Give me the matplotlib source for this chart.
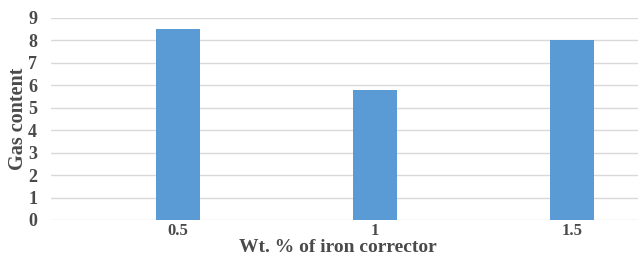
import matplotlib.pyplot as plt
import numpy as np

categories = ['0.5', '1', '1.5']
gas_content = [8.5, 5.8, 8.0]
yticks = list(range(0, 10))

fig = plt.figure(figsize=(6.38, 2.57), dpi=100)
ax = fig.add_axes([51 / 638, 37 / 257, 587 / 638, 202 / 257])

x = np.arange(len(categories))
ax.bar(x, gas_content, width=0.223, color='#5b9bd5', zorder=3)

ax.set_xlim(-0.645, 2.335)
ax.set_ylim(0, 9)
ax.set_yticks(yticks)
ax.set_xticks(x)
ax.set_xticklabels(categories)
ax.grid(axis='y', color='#d9d9d9', linewidth=1.0, zorder=0)
ax.set_axisbelow(True)
for s in ax.spines.values():
    s.set_visible(False)
ax.tick_params(axis='y', length=0, labelsize=13, labelcolor='#4a4a4a', pad=10)
ax.tick_params(axis='x', length=0, labelsize=12, labelcolor='#4a4a4a', pad=2)
for lab in ax.get_xticklabels() + ax.get_yticklabels():
    lab.set_fontfamily('Liberation Serif')
    lab.set_fontweight('bold')

ax.set_xlabel('Wt. % of iron corrector', fontsize=14, fontweight='bold',
              family='Liberation Serif', color='#4a4a4a', va='bottom')
ax.xaxis.set_label_coords(0.489, -0.18)
ax.set_ylabel('Gas content', fontsize=14.5, fontweight='bold',
              family='Liberation Serif', color='#4a4a4a', va='center')
ax.yaxis.set_label_coords(-0.056, 0.5)

fig.savefig('out.png', dpi=100)
